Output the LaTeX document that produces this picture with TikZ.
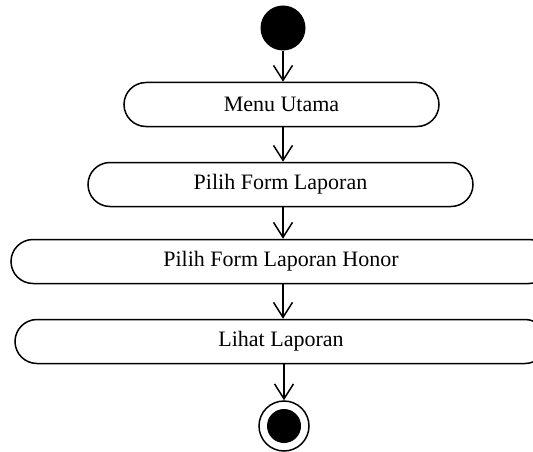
\documentclass[tikz,border=0pt]{standalone}
\usepackage{fontspec}
\setmainfont{Liberation Serif}
\usetikzlibrary{shapes.misc,arrows.meta}
\begin{document}
\begin{tikzpicture}[x=1pt,y=-1pt,
  act/.style={rounded rectangle, draw, line width=1.5pt, minimum height=44pt, inner sep=0pt, font=\fontsize{22}{25}\selectfont},
  flow/.style={line width=1.5pt, -{Straight Barb[length=15pt,width=19pt,line width=1.5pt]}},
]
\useasboundingbox (0,0) rectangle (533,452);
\clip (0,0) rectangle (533,452);
\node[circle, fill=black, minimum size=45pt, inner sep=0pt] (start) at (283,28) {};
\node[act, minimum width=315pt] (a1) at (281.5,104.5) {Menu Utama};
\node[act, minimum width=385pt] (a2) at (280.5,184.5) {Pilih Form Laporan};
\node[act, minimum width=540pt] (a3) at (281,261.5) {Pilih Form Laporan Honor};
\node[act, minimum width=532pt] (a4) at (281,341.5) {Lihat Laporan};
\node[circle, draw, line width=1.5pt, minimum size=50pt, inner sep=0pt] (end) at (284,426) {};
\node[circle, fill=black, minimum size=34pt, inner sep=0pt] (endin) at (end.center) {};
\draw[flow] (start.south) -- (a1.north -| start.south);
\draw[flow] (a1.south -| start.south) -- (a2.north -| start.south);
\draw[flow] (a2.south -| start.south) -- (a3.north -| start.south);
\draw[flow] (a3.south -| start.south) -- (a4.north -| start.south);
\draw[flow] (a4.south -| end.north) -- (end.north);
\end{tikzpicture}
\end{document}
